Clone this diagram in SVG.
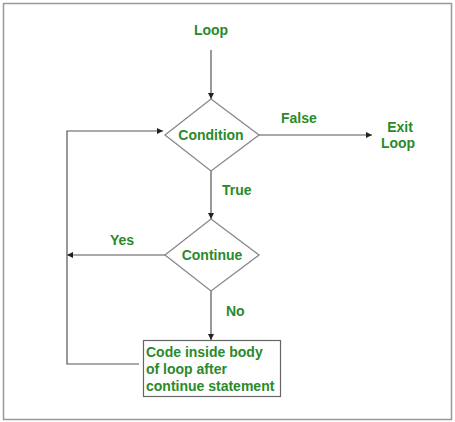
<svg xmlns="http://www.w3.org/2000/svg" width="455" height="422" viewBox="0 0 455 422">
<defs>
<style>
.t{font-family:"Liberation Sans",Arial,sans-serif;font-weight:bold;font-size:14px;fill:#2a8a2a}
.c{text-anchor:middle}
.ln{stroke:#555;stroke-width:1.2;fill:none}
.sh{stroke:#888;stroke-width:1.3;fill:#fff}
</style>
<marker id="ah" viewBox="0 0 10 10" refX="10" refY="5" markerWidth="6" markerHeight="6" orient="auto" markerUnits="userSpaceOnUse"><path d="M0,0 L10,5 L0,10 z" fill="#222"/></marker>
</defs>
<rect x="0" y="0" width="455" height="422" fill="#fff"/>
<rect x="3.5" y="3.5" width="448" height="416" fill="none" stroke="#999" stroke-width="1.5"/>
<g id="connectors">
<line class="ln" x1="211" y1="50" x2="211" y2="99" marker-end="url(#ah)"/>
<line class="ln" x1="259" y1="135" x2="372" y2="135" marker-end="url(#ah)"/>
<line class="ln" x1="211" y1="171" x2="211" y2="219" marker-end="url(#ah)"/>
<line class="ln" x1="165" y1="255" x2="67" y2="255" marker-end="url(#ah)"/>
<line class="ln" x1="211" y1="291" x2="211" y2="340" marker-end="url(#ah)"/>
<polyline class="ln" points="139,364 67,364 67,131 163,131" marker-end="url(#ah)"/>
<text class="t" x="281" y="123">False</text>
<text class="t" x="222" y="195">True</text>
<text class="t" x="110" y="245">Yes</text>
<text class="t" x="226" y="316">No</text>
</g>
<g id="loop"><text class="t c" x="211" y="35">Loop</text></g>
<g id="condition">
<polygon class="sh" points="211,99 259,135 211,171 165,135"/>
<text class="t c" x="211" y="140">Condition</text>
</g>
<g id="exit">
<text class="t c" x="400" y="132">Exit</text>
<text class="t c" x="398" y="148">Loop</text>
</g>
<g id="continue">
<polygon class="sh" points="211,219 259,255 211,291 165,255"/>
<text class="t c" x="212" y="260">Continue</text>
</g>
<g id="body">
<rect x="143.5" y="340.5" width="137" height="56" fill="#fff" stroke="#666" stroke-width="1.2"/>
<text class="t" x="146" y="357">Code inside body</text>
<text class="t" x="146" y="374">of loop after</text>
<text class="t" x="146" y="391">continue statement</text>
</g>
</svg>
